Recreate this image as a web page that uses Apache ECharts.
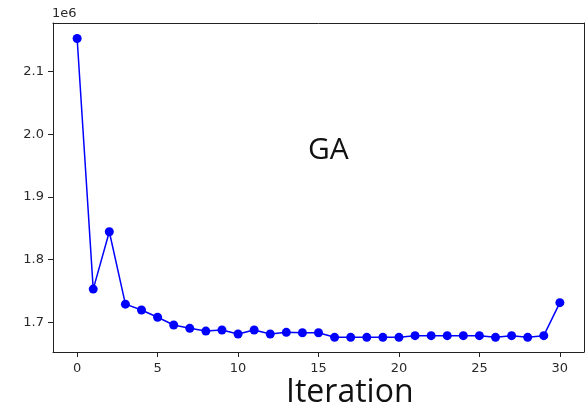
<!DOCTYPE html>
<html>
<head>
<meta charset="utf-8">
<script src="https://cdn.jsdelivr.net/npm/echarts@6/dist/echarts.min.js"></script>
<style>
  html, body { margin: 0; padding: 0; background: #fff; }
  #chart { width: 588px; height: 417px; }
</style>
</head>
<body>
<div id="chart"></div>
<script>
// GA fitness per iteration
const iterations = [0, 1, 2, 3, 4, 5, 6, 7, 8, 9, 10, 11, 12, 13, 14, 15,
  16, 17, 18, 19, 20, 21, 22, 23, 24, 25, 26, 27, 28, 29, 30];
const fitness = [2153000, 1753000, 1844500, 1729000, 1719600, 1708000, 1695700,
  1690400, 1686000, 1687700, 1681300, 1687700, 1681300, 1684000, 1683400, 1683400,
  1676000, 1676000, 1676000, 1676000, 1676000, 1678700, 1678700, 1678700, 1678700,
  1678700, 1676000, 1678700, 1676000, 1678700, 1731300];

const chart = echarts.init(document.getElementById('chart'));

const points = iterations.map((it, i) => [it, fitness[i]]);

const xMin = -1.5, xMax = 31.5;
const yMin = 1652600, yMax = 2177700;

// edge values (-1.5, 31.5, ...) get no label
function xLabel(v) {
  return Number.isInteger(v) && v % 5 === 0 ? String(v) : '';
}
function yLabel(v) {
  const s = v / 1e5;
  return Math.abs(s - Math.round(s)) < 1e-6 ? (v / 1e6).toFixed(1) : '';
}

const labelFont = { fontFamily: 'DejaVu Sans', fontSize: 13, color: '#2a2a2a' };

// axis that only draws the tick marks (labels left empty)
function tickAxis(min, max, position) {
  return {
    type: 'value', min: min, max: max, position: position,
    axisLine: { show: false, onZero: false },
    splitLine: { show: false },
    axisTick: { show: true, length: 5, lineStyle: { color: '#222', width: 1 } },
    axisLabel: { show: true, formatter: () => '', showMinLabel: false, showMaxLabel: false }
  };
}

// axis that only draws one edge of the frame
function frameAxis(min, max, position) {
  return {
    type: 'value', min: min, max: max, position: position,
    axisLine: { show: true, onZero: false, lineStyle: { color: '#222' } },
    axisTick: { show: false }, axisLabel: { show: false }, splitLine: { show: false }
  };
}

const option = {
  animation: false,
  grid: { left: 53, right: 4, top: 23, bottom: 65 },
  xAxis: [
    {
      type: 'value', min: xMin, max: xMax, position: 'bottom',
      axisLine: { show: true, onZero: false, lineStyle: { color: '#222' } },
      splitLine: { show: false },
      axisTick: { show: false },
      axisLabel: Object.assign({ margin: 10, formatter: xLabel }, labelFont)
    },
    frameAxis(xMin, xMax, 'top'),
    tickAxis(xMin, xMax, 'bottom')
  ],
  yAxis: [
    {
      type: 'value', min: yMin, max: yMax, position: 'left',
      name: '1e6',
      nameLocation: 'end',
      nameGap: 3,
      nameTextStyle: Object.assign({ align: 'left', padding: [0, 0, 0, -1] }, labelFont),
      axisLine: { show: true, onZero: false, lineStyle: { color: '#222' } },
      splitLine: { show: false },
      axisTick: { show: false },
      axisLabel: Object.assign({ margin: 9, formatter: yLabel }, labelFont)
    },
    frameAxis(yMin, yMax, 'right'),
    tickAxis(yMin, yMax, 'left')
  ],
  series: [{
    type: 'line',
    data: points,
    symbol: 'circle',
    symbolSize: 9,
    lineStyle: { color: '#0000ff', width: 1.5 },
    itemStyle: { color: '#0000ff' }
  }],
  graphic: [
    {
      type: 'text', left: 308, top: 135,
      style: { text: 'GA', font: '30px "Open Sans"', fill: '#111' }
    },
    {
      type: 'text', left: 286, top: 377,
      style: { text: 'Iteration', font: '32px "Open Sans"', fill: '#111' }
    }
  ]
};

chart.setOption(option);
</script>
</body>
</html>
